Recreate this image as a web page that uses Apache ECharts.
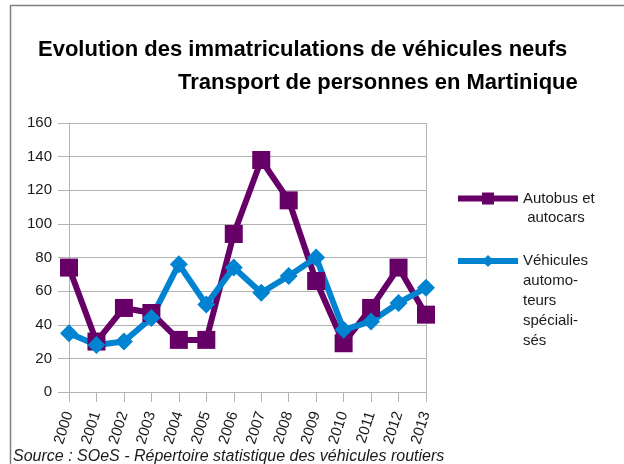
<!DOCTYPE html>
<html>
<head>
<meta charset="utf-8">
<script src="https://cdn.jsdelivr.net/npm/echarts@6/dist/echarts.min.js"></script>
<style>
  html, body { margin: 0; padding: 0; background: #fff; }
  #chart { width: 624px; height: 464px; }
</style>
</head>
<body>
<div id="chart"></div>
<script>
var years = ['2000','2001','2002','2003','2004','2005','2006','2007','2008','2009','2010','2011','2012','2013'];
var autobus = [74, 30, 50, 47, 31, 31, 94, 138, 114, 66, 29, 50, 74, 46];
var vehicules = [35, 28, 30, 44, 76, 52, 74, 59, 69, 80, 37, 42, 53, 62];
var nameAutobus = 'Autobus et\n autocars';
var nameVehicules = 'Véhicules\nautomo-\nteurs\nspéciali-\nsés';

var FONT = '"Liberation Sans", Arial, sans-serif';

// legend text is centred on the icon: pad with empty lines so the icon sits on the first line
function legendText(name) {
    var n = name.split('\n').length;
    return new Array(n).join('\n') + name;
}

var myChart = echarts.init(document.getElementById('chart'), null, {renderer: 'canvas'});
function legendFor(name, top, lh) {
    return {
        data: [name],
        top: top, left: 455, padding: 0,
        itemWidth: 60, itemHeight: 15,
        formatter: legendText,
        lineStyle: {width: 6},
        textStyle: {fontFamily: FONT, fontSize: 15, color: '#1a1a1a', lineHeight: lh}
    };
}
var option = {
    backgroundColor: '#fff',
    animation: false,
    title: [
        {
            text: 'Evolution des immatriculations de véhicules neufs',
            left: 38, top: 39, padding: 0,
            textStyle: {fontFamily: FONT, fontSize: 22, fontWeight: 'bold', color: '#000'}
        },
        {
            text: 'Transport de personnes en Martinique',
            left: 178, top: 72, padding: 0,
            textStyle: {fontFamily: FONT, fontSize: 22, fontWeight: 'bold', color: '#000'}
        }
    ],
    legend: [
        legendFor(nameAutobus, 170, 19),
        legendFor(nameVehicules, 171, 20)
    ],
    grid: {left: 69, right: 198, top: 123, bottom: 72, containLabel: false},
    xAxis: {
        type: 'category',
        data: years,
        boundaryGap: false,
        axisLine: {lineStyle: {color: '#b3b3b3', width: 1}},
        axisTick: {show: true, length: 10, lineStyle: {color: '#b3b3b3'}},
        axisLabel: {rotate: 72, margin: 20, fontFamily: FONT, fontSize: 15, color: '#1a1a1a'},
        splitLine: {show: false}
    },
    yAxis: {
        type: 'value',
        min: 0, max: 160, interval: 20,
        axisLine: {show: true, lineStyle: {color: '#b3b3b3', width: 1}},
        axisTick: {show: true, length: 11, lineStyle: {color: '#b3b3b3'}},
        axisLabel: {margin: 17, fontFamily: FONT, fontSize: 15, color: '#1a1a1a'},
        splitLine: {show: true, lineStyle: {color: '#b3b3b3', width: 1}}
    },
    graphic: [
        {type: 'line', silent: true, shape: {x1: 10.5, y1: 5.5, x2: 10.5, y2: 470}, style: {stroke: '#808080', lineWidth: 1.5}},
        {type: 'line', silent: true, shape: {x1: 10, y1: 5.5, x2: 630, y2: 5.5}, style: {stroke: '#808080', lineWidth: 1.5}},
        {type: 'line', silent: true, shape: {x1: 426.5, y1: 123, x2: 426.5, y2: 392}, style: {stroke: '#b3b3b3', lineWidth: 1}},
        {type: 'text', silent: true, left: 13, top: 449,
         style: {text: 'Source : SOeS - Répertoire statistique des véhicules routiers', font: 'italic 16px ' + FONT, fill: '#1a1a1a'}}
    ],
    series: [
        {
            name: nameAutobus,
            type: 'line',
            data: autobus,
            symbol: 'rect',
            symbolSize: 18,
            color: '#660066',
            lineStyle: {width: 6, color: '#660066'},
            itemStyle: {color: '#660066'}
        },
        {
            name: nameVehicules,
            type: 'line',
            data: vehicules,
            symbol: 'diamond',
            symbolSize: 18,
            color: '#0083d0',
            lineStyle: {width: 6, color: '#0083d0'},
            itemStyle: {color: '#0083d0'}
        }
    ]
};
myChart.setOption(option);
window.addEventListener('resize', function () { myChart.resize(); });
</script>
</body>
</html>
